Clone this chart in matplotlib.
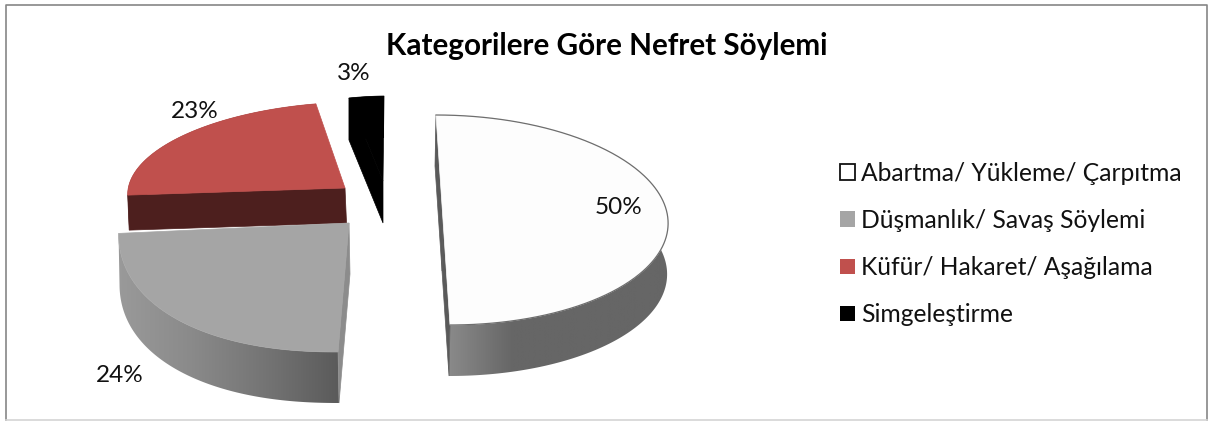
import numpy as np
import matplotlib
matplotlib.use("Agg")
import matplotlib.pyplot as plt
from matplotlib.colors import LinearSegmentedColormap
from matplotlib.patches import Patch, Polygon

categories = ["Abartma/ Yükleme/ Çarpıtma", "Düşmanlık/ Savaş Söylemi", "Küfür/ Hakaret/ Aşağılama", "Simgeleştirme"]
values = [50, 24, 23, 3]
title = "Kategorilere Göre Nefret Söylemi"

plt.rcParams["font.family"] = ["Lato", "DejaVu Sans"]

top_colors = ["#fdfdfd", "#a5a5a5", "#c0504d", "#000000"]
cut_colors = ["#5a5a5a", "#8c8c8c", "#4d1f1e", "#000000"]
side_grads = [["#929292", "#666666", "#666666", "#666666"], ["#9a9a9a", "#8a8a8a", "#747474", "#5a5a5a"],
              ["#4d1f1e", "#4d1f1e"], ["#000000", "#000000"]]

# each exploded slice has its own perspective: cx, cy, a, b, skew x, skew y, depth x, depth y, roundness
geom = [(443, 220, 225, 105, 0.0667, 0.0, -1, 51, 2.0),
        (349, 223, 230, 129, -0.085, 0.0, 1, 51, 2.2),
        (345, 188, 217, 86, -0.137, -0.008, 1.5, 35, 2.0),
        (383, 181, 187, 85, -0.012, -0.014, 0, 42, 2.0)]
label_pos = [(619, 207), (120, 375), (195, 112), (354, 73)]

fig = plt.figure(figsize=(12.08, 4.21), dpi=100)
ax = fig.add_axes([0, 0, 1, 1])


def slice_xy(g, t):
    cx, cy, a, b, sx, sy = g[:6]
    p = 2 / g[8]
    u = a * np.sign(np.sin(t)) * np.abs(np.sin(t)) ** p
    v = -b * np.sign(np.cos(t)) * np.abs(np.cos(t)) ** p
    return cx + u + sx * v, cy + v + sy * u


def draw_slice(i, t0, t1, z):
    g = geom[i]
    dx, dy = g[6], g[7]
    t = np.linspace(t0, t1, 300)
    x, y = slice_xy(g, t)
    cx, cy = g[0], g[1]

    # outer wall with horizontal gradient
    wall = Polygon(np.r_[np.c_[x, y], np.c_[x + dx, y + dy][::-1]], closed=True, transform=ax.transData,
                   fc="none", ec="none")
    ax.add_patch(wall)
    cmap = LinearSegmentedColormap.from_list("side", side_grads[i])
    grad = np.linspace(0, 1, 256).reshape(1, -1)
    im = ax.imshow(grad, cmap=cmap, aspect="auto", zorder=z,
                   extent=(x.min() - 2, x.max() + 2, y.max() + dy + 2, y.min() - 2))
    im.set_clip_path(wall)

    # cut faces, the big white slice shows both of them
    ends = [0, -1] if i == 0 else [0]
    for e in ends:
        face = [(cx, cy), (cx + dx, cy + dy), (x[e] + dx, y[e] + dy), (x[e], y[e])]
        ax.add_patch(Polygon(face, closed=True, fc=cut_colors[i], ec=cut_colors[i], lw=0.5, zorder=z + 0.1))

    # top
    ax.add_patch(Polygon(np.r_[[(cx, cy)], np.c_[x, y]], closed=True, fc=top_colors[i], ec=top_colors[i], lw=0.5,
                         zorder=z + 0.2))
    if i == 0:
        ax.plot(x, y, color="#6e6e6e", lw=0.9, zorder=z + 0.3)


angles = np.r_[0, np.cumsum(values)] / np.sum(values) * 2 * np.pi
order = [3, 2, 1, 0]
for z, i in enumerate(order):
    draw_slice(i, angles[i], angles[i + 1], z + 2)

for v, (lx, ly) in zip(values, label_pos):
    ax.text(lx, ly, f"{v}%", ha="center", va="center", fontsize=17.5, color="#111111", zorder=10)

ax.text(606.5, 46, title, ha="center", va="center", fontsize=21.3, fontweight="bold", color="#000000", zorder=10)

handles = []
for c, name in zip(top_colors, categories):
    if c == "#fdfdfd":
        handles.append(Patch(fc="#ffffff", ec="#111111", lw=1.3, label=name))
    else:
        handles.append(Patch(fc=c, ec="none", label=name))
ax.legend(handles=handles, loc="center left", bbox_to_anchor=(840, 244), bbox_transform=ax.transData,
          frameon=False, fontsize=17.7, labelspacing=0.98, handlelength=0.61, handleheight=0.61,
          handletextpad=0.25, borderpad=0, borderaxespad=0, labelcolor="#111111")

# chart frame
ax.plot([5.5, 5.5, 1206.5, 1206.5], [420, 5, 5, 420], color="#868686", lw=1.2, zorder=1)
ax.plot([5.5, 1206.5], [420, 420], color="#d4d4d4", lw=1.2, zorder=1)

ax.set_xlim(0, 1208)
ax.set_ylim(421, 0)
ax.axis("off")
fig.savefig("out.png", dpi=100)
